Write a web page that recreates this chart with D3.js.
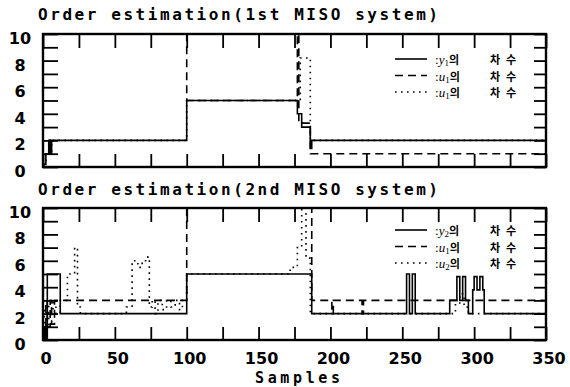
<!DOCTYPE html>
<html>
<head>
<meta charset="utf-8">
<script src="https://cdn.jsdelivr.net/npm/d3@7"></script>
<style>
  body { margin: 0; background: #fff; }
  text { fill: #000; }
</style>
</head>
<body>
<svg id="chart" width="570" height="387"></svg>
<script>
// order estimates, [sample, order], drawn as steps
var y1Top = [[0,0.2],[2,1],[4,2],[5,1],[6,2],[100,5],[177,4],[180,3],[186,1.4],[187,2],[350,2]];
var u1Top = [[0,10],[100,5],[177,10],[178,3.3],[186,1],[350,1]];
var u1bTop = [[0,0.2],[2,1],[4,2],[5,1],[6,2],[100,5],[179,8.2],[186,2],[350,2]];

var y2Bot = [[0,0],[1,1],[2,0],[3,5],[12,2],[100,5],[187,2],[253,5],[255,2],[257,5],[259,2],[283,3],[288,4.8],[290,3],[292,4.8],[294,3],[296,2],[299,3.8],[300,4.8],[302,3.8],[304,4.8],[306,3.8],[307,2],[350,2]];
var u1Bot = [[0,0.3],[2,3],[3,1],[5,3],[6,1.2],[8,3],[100,10],[187,3],[201,2],[202,3],[222,2],[223,3],[350,3]];
var u2Bot = [[0,0],[1,2.5],[3,1],[4,2.8],[6,2.2],[7,3],[9,2],[12,3],[17,5],[22,7],[24,2.5],[26,2],[58,2.5],[62,6],[66,5.5],[69,6],[73,6.3],[74,2.5],[76,3],[78,2],[80,3],[83,2.3],[86,3],[89,2.5],[92,3],[95,2.3],[97,3],[100,5],[172,5.5],[177,7],[180,10],[183,6.2],[186,2],[287,2.8],[290,3.5],[293,2.5],[296,2],[350,2]];

var xTicks = [0,25,50,75,100,125,150,175,200,225,250,275,300,325,350];
var xTickLabels = [0,50,100,150,200,250,300,350];
var yTicks = [0,1,2,3,4,5,6,7,8,9,10];
var yTickLabels = [0,2,4,6,8,10];

var titles = ["Order estimation(1st MISO system)", "Order estimation(2nd MISO system)"];
var legendTop = [["y","1"],["u","1"],["u","1"]];
var legendBot = [["y","2"],["u","1"],["u","2"]];

var dashes = [null, "8,5", "1.6,4.4"];

var svg = d3.select("#chart");
var x = d3.scaleLinear().domain([0, 350]).range([43, 546]);

function drawPanel(top, bottom, series, legend, title, titleY, showLabels) {
  var y = d3.scaleLinear().domain([0, 10]).range([bottom, top]);
  var g = svg.append("g");

  svg.append("text")
    .attr("x", 38).attr("y", titleY)
    .attr("textLength", 400).attr("lengthAdjust", "spacing")
    .style("font", "bold 16px 'DejaVu Sans Mono'")
    .text(title);

  var line = d3.line()
    .x(function(d) { return x(d[0]); })
    .y(function(d) { return y(d[1]); })
    .curve(d3.curveStepAfter);

  series.forEach(function(s, i) {
    g.append("path")
      .datum(s)
      .attr("d", line)
      .attr("fill", "none")
      .attr("stroke", "#000")
      .attr("stroke-width", 1.6)
      .attr("stroke-dasharray", dashes[i]);
  });

  // inward ticks on all four sides
  var axes = [
    d3.axisBottom(x).tickValues(xTicks).tickSize(-13).tickFormat(""),
    d3.axisTop(x).tickValues(xTicks).tickSize(-14).tickFormat(""),
    d3.axisLeft(y).tickValues(yTicks).tickSize(-15).tickFormat(""),
    d3.axisRight(y).tickValues(yTicks).tickSize(-12).tickFormat("")
  ];
  var shifts = ["translate(0," + bottom + ")", "translate(0," + top + ")", "translate(43,0)", "translate(546,0)"];
  axes.forEach(function(a, i) {
    var ax = g.append("g").attr("transform", shifts[i]).call(a);
    ax.select(".domain").remove();
    ax.selectAll("line").attr("stroke", "#000").attr("stroke-width", 1.8);
  });

  g.append("rect")
    .attr("x", 43).attr("y", top)
    .attr("width", 546 - 43).attr("height", bottom - top)
    .attr("fill", "none").attr("stroke", "#000").attr("stroke-width", 2.4);

  g.selectAll(".ylab").data(yTickLabels).enter().append("text")
    .attr("x", 20).attr("y", function(d) { return y(d) + 10; })
    .attr("text-anchor", "middle")
    .style("font", "bold 16px 'DejaVu Sans'")
    .text(function(d) { return d; });

  if (showLabels) {
    g.selectAll(".xlab").data(xTickLabels).enter().append("text")
      .attr("x", function(d) { return x(d) + 3; }).attr("y", bottom + 24)
      .attr("text-anchor", "middle")
      .style("font", "bold 16px 'DejaVu Sans'")
      .text(function(d) { return d; });
    svg.append("text")
      .attr("x", 255).attr("y", 383)
      .attr("textLength", 85).attr("lengthAdjust", "spacing")
      .style("font", "bold 15px 'DejaVu Sans Mono'")
      .text("Samples");
  }

  // legend
  var rowY = top + (top < 100 ? 25 : 22);
  legend.forEach(function(l, i) {
    var ly = rowY + i * 16.5;
    g.append("line")
      .attr("x1", 395).attr("x2", 427).attr("y1", ly).attr("y2", ly)
      .attr("stroke", "#000").attr("stroke-width", 1.6)
      .attr("stroke-dasharray", dashes[i]);
    var t = g.append("text").attr("x", 435).attr("y", ly + 5)
      .style("font", "13px 'Liberation Serif'");
    t.append("tspan").text(":");
    t.append("tspan").style("font-style", "italic").text(l[0]);
    t.append("tspan").attr("dy", 2).style("font-size", "9px").text(l[1]);
    t.append("tspan").attr("dy", -2)
      .style("font", "bold 11px 'Noto Sans CJK KR'").text("의");
    g.append("text").attr("x", 490).attr("y", ly + 5)
      .style("font", "bold 11px 'Noto Sans CJK KR'")
      .style("letter-spacing", "6px")
      .text("차수");
  });
}

drawPanel(34, 167, [y1Top, u1Top, u1bTop], legendTop, titles[0], 20, false);
drawPanel(208, 340, [y2Bot, u1Bot, u2Bot], legendBot, titles[1], 195, true);
</script>
</body>
</html>
